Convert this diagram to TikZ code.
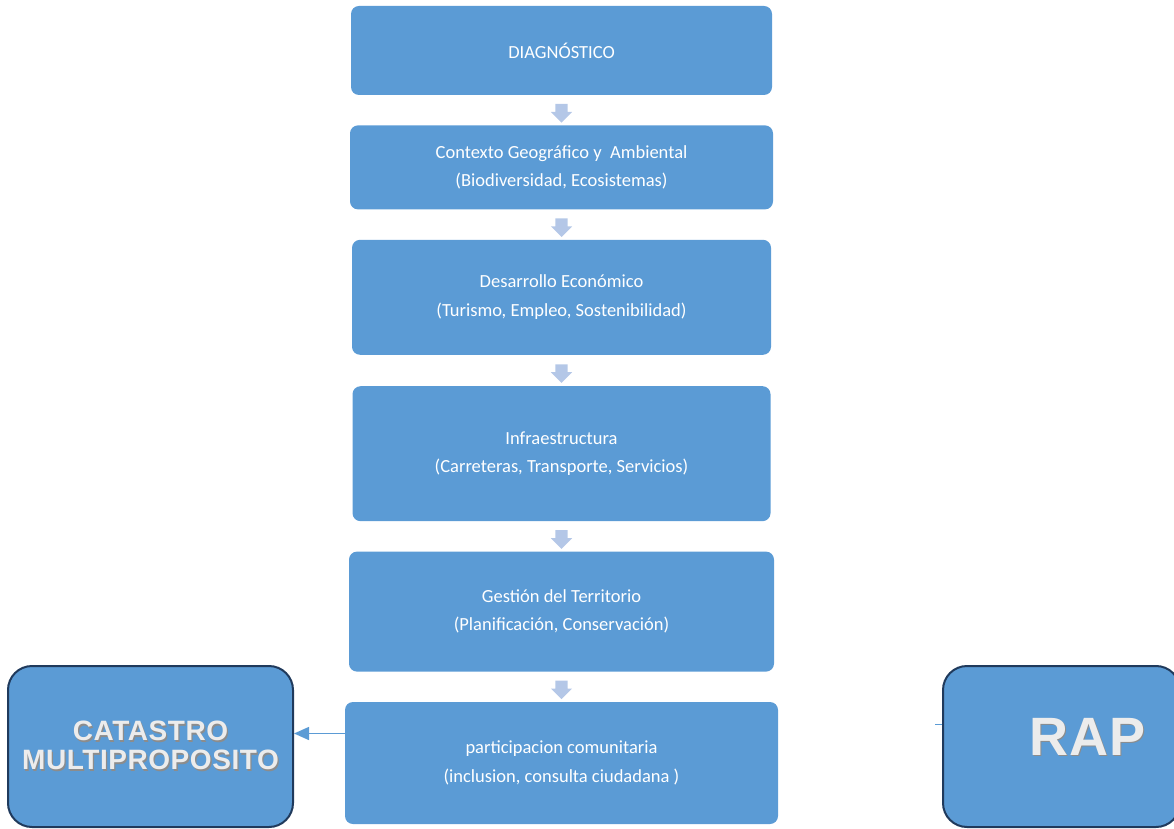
\documentclass[tikz,border=0pt]{standalone}
\usepackage{fontspec}
\setmainfont{Carlito}
\newfontfamily\arialfont[LetterSpace=2]{Liberation Sans}
\usetikzlibrary{shapes.arrows, arrows.meta, positioning, calc}
\definecolor{cajaazul}{HTML}{5B9BD5}
\definecolor{flechaazul}{HTML}{B4C7E7}
\definecolor{bordeoscuro}{HTML}{203A5C}
\definecolor{textogris}{HTML}{ECECEC}
\definecolor{sombragris}{HTML}{8C8C8C}
\newcommand{\conSombra}[1]{\rlap{\kern1.3pt\raisebox{-1.3pt}{\color{sombragris}#1}}#1}

\begin{document}
\begin{tikzpicture}[
  x=1pt, y=1pt,
  font=\fontsize{18.5}{28.5}\selectfont,
  >=Latex,
  node distance=30pt,
  every node/.style={align=center},
  paso/.style={fill=cajaazul, rounded corners=8pt, text=white,
               inner sep=0pt},
  flecha/.style={single arrow, fill=flechaazul, minimum width=21pt,
                 minimum height=17pt, single arrow head extend=4.5pt,
                 inner sep=6pt, shape border rotate=270},
  destino/.style={draw=bordeoscuro, line width=2pt, fill=cajaazul,
                  rounded corners=24pt, minimum width=285pt,
                  minimum height=161pt, text=textogris,
                  font=\arialfont\bfseries\fontsize{28}{29}\selectfont},
  conector/.style={draw=cajaazul, line width=1.5pt,
                   -{Triangle[length=15pt, width=13pt]}},
  suelto/.style={draw=cajaazul, line width=1.5pt}
]
\useasboundingbox (0,0) rectangle (1174,828);

\node[paso, minimum width=421pt, minimum height=89pt] (b1) at (561.5,777.5) {DIAGNÓSTICO};
\node[paso, minimum width=423pt, minimum height=84pt, below=30pt of b1] (b2)
  {Contexto Geográfico y~ Ambiental\\(Biodiversidad, Ecosistemas)};
\node[paso, minimum width=419pt, minimum height=115pt, below=30pt of b2] (b3)
  {Desarrollo Económico\\(Turismo, Empleo, Sostenibilidad)};
\node[paso, minimum width=418pt, minimum height=135pt, below=31pt of b3] (b4)
  {Infraestructura\\(Carreteras, Transporte, Servicios)};
\node[paso, minimum width=425pt, minimum height=120pt, below=30pt of b4] (b5)
  {Gestión del Territorio\\(Planificación, Conservación)};
\node[paso, minimum width=433pt, minimum height=122pt, below=30pt of b5] (b6)
  {participacion comunitaria\\(inclusion, consulta ciudadana )};

\node[flecha] (f1) at ($(b1.south)!.5!(b2.north)$) {};
\node[flecha] (f2) at ($(b2.south)!.5!(b3.north)$) {};
\node[flecha] (f3) at ($(b3.south)!.5!(b4.north)$) {};
\node[flecha] (f4) at ($(b4.south)!.5!(b5.north)$) {};
\node[flecha] (f5) at ($(b5.south)!.5!(b6.north)$) {};

\node[destino] (cat) at (150.5,81.5) {\conSombra{CATASTRO}\\\conSombra{MULTIPROPOSITO}};
\node[destino, minimum width=237pt] (rap) at (1061.5,81.5) {};
\node[text=textogris, font=\arialfont\bfseries\fontsize{54}{56}\selectfont]
  (raptexto) at ([shift={(26,9)}]rap.center) {\conSombra{RAP}};

\coordinate (salida) at ([yshift=29.5pt]b6.west);
\draw[conector] (salida) -- (salida -| cat.east);
\coordinate (cabo) at (935,103.5);
\draw[suelto] (cabo) -- (cabo -| rap.west);

\end{tikzpicture}
\end{document}
